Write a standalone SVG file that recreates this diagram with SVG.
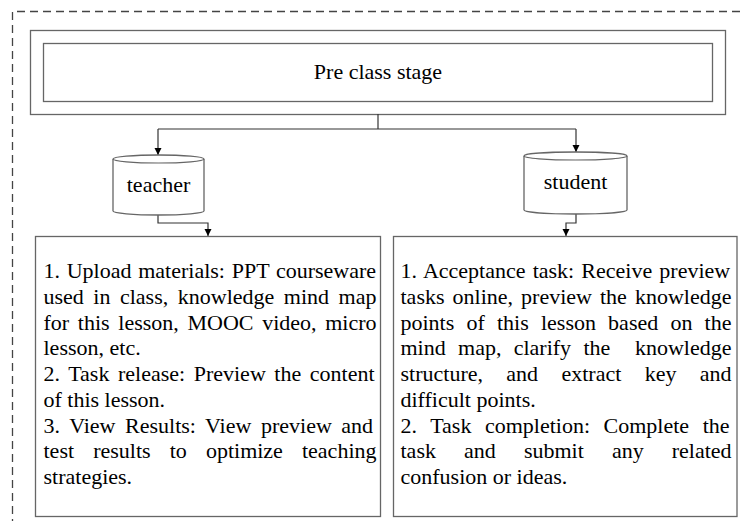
<svg xmlns="http://www.w3.org/2000/svg" width="740" height="521" viewBox="0 0 740 521">
<defs>
<style>
.box{fill:#fff;stroke:#666;stroke-width:1.3}
.ln{fill:none;stroke:#333;stroke-width:1.2}
.dash{fill:none;stroke:#444;stroke-width:1.3;stroke-dasharray:8 5}
text{font-family:'Liberation Serif','DejaVu Serif','Times New Roman',serif;font-size:22px;fill:#000}
</style>
<marker id="ah" viewBox="0 0 10 10" refX="10" refY="5" markerWidth="7" markerHeight="8" markerUnits="userSpaceOnUse" orient="auto">
<path d="M0,0 L10,5 L0,10 Z" fill="#000"/>
</marker>
</defs>
<rect width="740" height="521" fill="#fff"/>
<path class="dash" d="M740,11.5 H12.5 V521"/>
<g id="pre-class-stage">
<rect class="box" x="30.5" y="30.5" width="695" height="84"/>
<rect class="box" x="43.5" y="43.5" width="669" height="58"/>
<text x="378" y="79" text-anchor="middle">Pre class stage</text>
</g>
<g id="connectors">
<path class="ln" d="M378,114 V129"/>
<path class="ln" d="M158,129 H576"/>
<path class="ln" d="M158,129 V155" marker-end="url(#ah)"/>
<path class="ln" d="M576,129 V152" marker-end="url(#ah)"/>
<path class="ln" d="M158,215 V223 H208 V236" marker-end="url(#ah)"/>
<path class="ln" d="M576,214 V223 H566 V236" marker-end="url(#ah)"/>
</g>
<g id="teacher">
<path class="box" d="M113,159 V211 A45.5,4 0 0 0 204,211 V159 A45.5,4 0 0 0 113,159 Z"/>
<path class="ln" style="stroke:#666" d="M113,159 A45.5,4 0 0 0 204,159"/>
<text x="158.5" y="192" text-anchor="middle">teacher</text>
</g>
<g id="student">
<path class="box" d="M524,156 V210 A51.5,4 0 0 0 627,210 V156 A51.5,4 0 0 0 524,156 Z"/>
<path class="ln" style="stroke:#666" d="M524,156 A51.5,4 0 0 0 627,156"/>
<text x="575.5" y="189" text-anchor="middle">student</text>
</g>
<g id="teacher-tasks">
<rect class="box" x="35.5" y="236.5" width="345" height="280"/>
<text x="43.5" y="278" word-spacing="1.22">1. Upload materials: PPT courseware</text>
<text x="43.5" y="304" word-spacing="4.02">used in class, knowledge mind map</text>
<text x="43.5" y="330" word-spacing="3.17">for this lesson, MOOC video, micro</text>
<text x="43.5" y="355">lesson, etc.</text>
<text x="43.5" y="381" word-spacing="3.06">2. Task release: Preview the content</text>
<text x="43.5" y="407">of this lesson.</text>
<text x="43.5" y="433" word-spacing="4.04">3. View Results: View preview and</text>
<text x="43.5" y="458" word-spacing="13.6">test results to optimize teaching</text>
<text x="43.5" y="484">strategies.</text>
</g>
<g id="student-tasks">
<rect class="box" x="393.5" y="236.5" width="343.5" height="280"/>
<text x="400.5" y="278" word-spacing="1.65">1. Acceptance task: Receive preview</text>
<text x="400.5" y="304" word-spacing="2.55">tasks online, preview the knowledge</text>
<text x="400.5" y="330" word-spacing="6.68">points of this lesson based on the</text>
<text x="400.5" y="355" word-spacing="6.8" xml:space="preserve">mind map, clarify the  knowledge</text>
<text x="400.5" y="381" word-spacing="17.85">structure, and extract key and</text>
<text x="400.5" y="407">difficult points.</text>
<text x="400.5" y="433" word-spacing="8.05">2. Task completion: Complete the</text>
<text x="400.5" y="458" word-spacing="22.6">task and submit any related</text>
<text x="400.5" y="484">confusion or ideas.</text>
</g>
</svg>
